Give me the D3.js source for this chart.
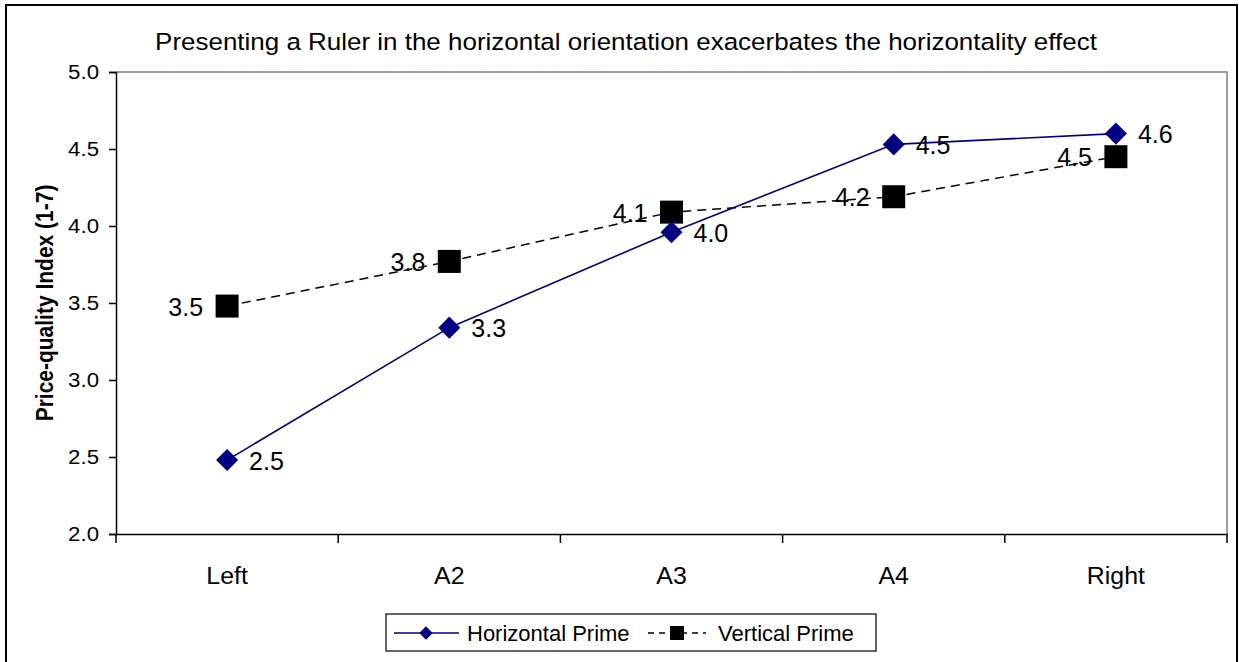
<!DOCTYPE html>
<html>
<head>
<meta charset="utf-8">
<script src="https://cdn.jsdelivr.net/npm/d3@7"></script>
<style>
  body { margin: 0; background: #fff; }
  svg { display: block; font-family: "Liberation Sans", Arial, sans-serif; }
</style>
</head>
<body>
<script>
// Chart data
const categories = ["Left", "A2", "A3", "A4", "Right"];
const horizontalPrime = [2.48, 3.34, 3.96, 4.53, 4.60];
const verticalPrime = [3.48, 3.77, 4.09, 4.19, 4.45];
const horizontalLabels = ["2.5", "3.3", "4.0", "4.5", "4.6"];
const verticalLabels = ["3.5", "3.8", "4.1", "4.2", "4.5"];
const yTicks = [2.0, 2.5, 3.0, 3.5, 4.0, 4.5, 5.0];

const width = 1239;
const height = 662;
const plot = { left: 116, right: 1227, top: 72, bottom: 534 };
// the source picture is a little wider than tall, so text is widened a bit
const stretch = 1.06;

const svg = d3.select("body")
  .append("svg")
  .attr("width", width)
  .attr("height", height);

// outer frame
svg.append("rect")
  .attr("x", 6).attr("y", 5)
  .attr("width", 1231).attr("height", 670)
  .attr("fill", "none")
  .attr("stroke", "#000")
  .attr("stroke-width", 2);

const x = d3.scaleBand()
  .domain(categories)
  .range([plot.left, plot.right])
  .padding(0);

const y = d3.scaleLinear()
  .domain([2, 5])
  .range([plot.bottom, plot.top]);

const cx = c => x(c) + x.bandwidth() / 2;

// plot area border (top and right, gray)
svg.append("path")
  .attr("d", `M${plot.left},${plot.top}H${plot.right}V${plot.bottom}`)
  .attr("fill", "none")
  .attr("stroke", "#808080")
  .attr("stroke-width", 1.5);

// title
svg.append("text")
  .attr("transform", `translate(626,50) scale(${stretch},1)`)
  .attr("text-anchor", "middle")
  .attr("font-size", 24.5)
  .text("Presenting a Ruler in the horizontal orientation exacerbates the horizontality effect");

// y axis
const yAxis = svg.append("g")
  .attr("transform", `translate(${plot.left},0)`)
  .call(d3.axisLeft(y).tickValues(yTicks).tickSize(7).tickFormat(d3.format(".1f")));
yAxis.select(".domain").attr("stroke", "#000").attr("stroke-width", 1.5);
yAxis.selectAll(".tick line").attr("stroke", "#000").attr("stroke-width", 1.5);
yAxis.selectAll(".tick text")
  .attr("x", -17 / stretch)
  .attr("transform", `scale(${stretch},1)`)
  .attr("font-size", 21)
  .attr("font-family", "Liberation Sans, Arial, sans-serif")
  .attr("fill", "#000");

// x axis
const xAxis = svg.append("g")
  .attr("transform", `translate(0,${plot.bottom})`)
  .call(d3.axisBottom(x).tickSize(0));
xAxis.select(".domain").attr("stroke", "#000").attr("stroke-width", 1.5);
xAxis.selectAll(".tick text")
  .attr("y", 50)
  .attr("dy", 0)
  .attr("transform", `scale(${stretch},1)`)
  .attr("font-size", 23.5)
  .attr("font-family", "Liberation Sans, Arial, sans-serif")
  .attr("fill", "#000");

// x tick marks at category boundaries
const boundaries = categories.map(c => x(c)).concat([x(categories[categories.length - 1]) + x.bandwidth()]);
svg.append("g").selectAll("line")
  .data(boundaries)
  .enter()
  .append("line")
  .attr("x1", d => d).attr("x2", d => d)
  .attr("y1", plot.bottom).attr("y2", plot.bottom + 9)
  .attr("stroke", "#000")
  .attr("stroke-width", 1.5);

// y axis title
svg.append("text")
  .attr("transform", `translate(53,${(plot.top + plot.bottom) / 2}) scale(1.12,1) rotate(-90)`)
  .attr("text-anchor", "middle")
  .attr("font-size", 21)
  .attr("font-weight", "bold")
  .text("Price-quality Index (1-7)");

const line = d3.line()
  .x((d, i) => cx(categories[i]))
  .y(d => y(d));

// vertical prime (dashed black)
svg.append("path")
  .datum(verticalPrime)
  .attr("d", line)
  .attr("fill", "none")
  .attr("stroke", "#000")
  .attr("stroke-width", 1.5)
  .attr("stroke-dasharray", "9,6");

// horizontal prime (navy)
svg.append("path")
  .datum(horizontalPrime)
  .attr("d", line)
  .attr("fill", "none")
  .attr("stroke", "#000080")
  .attr("stroke-width", 1.6);

// square markers
svg.append("g").selectAll("rect")
  .data(verticalPrime)
  .enter()
  .append("rect")
  .attr("x", (d, i) => cx(categories[i]) - 11.5)
  .attr("y", d => y(d) - 11.5)
  .attr("width", 23)
  .attr("height", 23)
  .attr("fill", "#000");

// diamond markers
const diamond = d3.symbol().type(d3.symbolDiamond2).size(310);
svg.append("g").selectAll("path")
  .data(horizontalPrime)
  .enter()
  .append("path")
  .attr("transform", (d, i) => `translate(${cx(categories[i])},${y(d)})`)
  .attr("d", diamond)
  .attr("fill", "#000080");

// value labels
svg.append("g").selectAll("text")
  .data(horizontalPrime)
  .enter()
  .append("text")
  .attr("x", (d, i) => cx(categories[i]) + 22)
  .attr("y", d => y(d) + 9.5)
  .attr("font-size", 25)
  .text((d, i) => horizontalLabels[i]);

svg.append("g").selectAll("text")
  .data(verticalPrime)
  .enter()
  .append("text")
  .attr("x", (d, i) => cx(categories[i]) - 24)
  .attr("y", d => y(d) + 9.5)
  .attr("text-anchor", "end")
  .attr("font-size", 25)
  .text((d, i) => verticalLabels[i]);

// legend
const legend = svg.append("g");
legend.append("rect")
  .attr("x", 386).attr("y", 614)
  .attr("width", 490).attr("height", 37)
  .attr("fill", "#fff")
  .attr("stroke", "#000")
  .attr("stroke-width", 1.2);
legend.append("line")
  .attr("x1", 394).attr("x2", 459)
  .attr("y1", 633).attr("y2", 633)
  .attr("stroke", "#000080").attr("stroke-width", 1.6);
legend.append("path")
  .attr("transform", "translate(426,633)")
  .attr("d", d3.symbol().type(d3.symbolDiamond2).size(115))
  .attr("fill", "#000080");
legend.append("text")
  .attr("x", 467).attr("y", 641)
  .attr("font-size", 22)
  .text("Horizontal Prime");
legend.append("line")
  .attr("x1", 648).attr("x2", 706)
  .attr("y1", 633).attr("y2", 633)
  .attr("stroke", "#000").attr("stroke-width", 1.5)
  .attr("stroke-dasharray", "6,5");
legend.append("rect")
  .attr("x", 670).attr("y", 626)
  .attr("width", 14).attr("height", 14)
  .attr("fill", "#000");
legend.append("text")
  .attr("x", 718).attr("y", 641)
  .attr("font-size", 22)
  .text("Vertical Prime");
</script>
</body>
</html>
